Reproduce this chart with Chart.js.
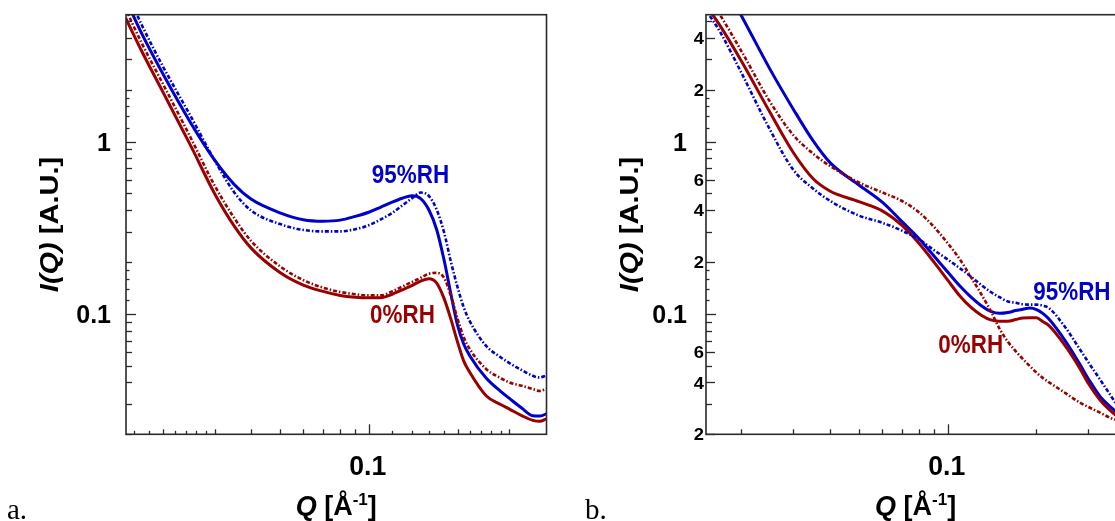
<!DOCTYPE html>
<html><head><meta charset="utf-8">
<script src="https://cdn.jsdelivr.net/npm/chart.js@4.4.0/dist/chart.umd.min.js"></script>
<style>
html,body{margin:0;padding:0;background:#fff;overflow:hidden;width:1115px;height:521px;}
#wa{position:absolute;left:0;top:0;width:560px;height:521px;}
#wb{position:absolute;left:560px;top:0;width:555px;height:521px;overflow:hidden;}
canvas{display:block;}
</style></head><body>
<div id="wa"><canvas id="ca" width="560" height="521"></canvas></div>
<div id="wb"><canvas id="cb" width="600" height="521"></canvas></div>
<script>
// ---- data ----
const Q = [0.015,0.017,0.02,0.025,0.03,0.035,0.04,0.05,0.06,0.07,0.08,0.09,0.1,0.11,0.12,0.13,0.14,0.15,0.16,0.17,0.18,0.19,0.2,0.21,0.22,0.25,0.28,0.3,0.33,0.36,0.38,0.4];

const aBlueSolid = [6.7,4.23,2.49,1.27,0.782,0.563,0.462,0.386,0.352,0.345,0.35,0.368,0.389,0.417,0.445,0.469,0.485,0.467,0.401,0.308,0.206,0.130,0.0859,0.0666,0.0572,0.0424,0.0355,0.0323,0.0284,0.0256,0.0255,0.0263];
const aBlueDash  = [7.6,4.75,2.75,1.387,0.78,0.507,0.397,0.332,0.307,0.301,0.301,0.310,0.327,0.354,0.385,0.426,0.468,0.506,0.483,0.402,0.298,0.200,0.143,0.109,0.0907,0.0652,0.056,0.0518,0.0472,0.0437,0.0427,0.0439];
const aRedSolid  = [5.2,3.346,1.957,0.934,0.5,0.323,0.240,0.174,0.147,0.135,0.128,0.125,0.124,0.124,0.130,0.138,0.146,0.155,0.160,0.151,0.123,0.0929,0.0687,0.0532,0.0458,0.0335,0.0298,0.0280,0.0257,0.0241,0.0238,0.0246];
const aRedDash   = [5.86,3.72,2.18,1.039,0.557,0.36,0.264,0.189,0.157,0.142,0.134,0.130,0.128,0.128,0.135,0.144,0.153,0.162,0.171,0.173,0.162,0.127,0.0938,0.0731,0.0625,0.0479,0.0424,0.040,0.0383,0.0366,0.0357,0.0366];

const bBlueSolid = [12,8.83,5.36,2.625,1.537,1.009,0.752,0.560,0.445,0.343,0.273,0.216,0.175,0.145,0.125,0.1115,0.1034,0.1007,0.1018,0.1045,0.1065,0.108,0.1059,0.1007,0.0937,0.070,0.0513,0.0419,0.0328,0.0284,0.0261,0.0244];
const bBlueDash  = [5.95,4.27,2.50,1.169,0.684,0.533,0.452,0.372,0.338,0.304,0.270,0.234,0.207,0.184,0.1645,0.147,0.134,0.125,0.118,0.116,0.1137,0.1132,0.1132,0.1117,0.1084,0.0838,0.0626,0.0523,0.0411,0.0328,0.0286,0.0257];
const bRedSolid  = [6.34,4.65,2.925,1.473,0.861,0.608,0.515,0.448,0.396,0.326,0.256,0.199,0.157,0.127,0.109,0.0983,0.0922,0.0906,0.0907,0.0927,0.0947,0.0948,0.0948,0.0902,0.0857,0.0655,0.0486,0.0394,0.0313,0.0270,0.0251,0.0238];
const bRedDash   = [7.36,5.355,3.342,1.699,1.088,0.851,0.720,0.579,0.507,0.452,0.388,0.319,0.257,0.207,0.163,0.130,0.1037,0.0819,0.0689,0.0608,0.0546,0.0497,0.0456,0.0425,0.0402,0.0348,0.0306,0.0288,0.0266,0.0247,0.0241,0.0238];

// tick positions and labels
const yTickMantissas = [1,1.2,1.4,1.6,1.8,2,3,4,5,6,7,8,9];
const yTickDecades = [0.01,0.1,1];
const yLabelsA = [{v:1,t:'1'},{v:0.1,t:'0.1'}];
const yLabelsB = [{v:4,t:'4'},{v:2,t:'2'},{v:1,t:'1'},{v:0.6,t:'6'},{v:0.4,t:'4'},{v:0.2,t:'2'},{v:0.1,t:'0.1'},{v:0.06,t:'6'},{v:0.04,t:'4'},{v:0.02,t:'2'}];
const xTicksA = [0.016,0.018,0.02,0.022,0.024,0.026,0.028,0.03,0.04,0.05,0.06,0.07,0.08,0.09,0.1,0.12,0.14,0.16,0.18,0.2,0.22,0.24,0.26,0.28,0.3];
const xTicksB = [0.02,0.03,0.04,0.05,0.06,0.07,0.08,0.09,0.1,0.2,0.3,0.4];
const xLabels = [{v:0.1,t:'0.1'}];
const seriesLabelsA = [{q:0.1024,i:0.573,t:'95%RH',c:'blue'},{q:0.101,i:0.0885,t:'0%RH',c:'red'}];
const seriesLabelsB = [{q:0.195,i:0.121,t:'95%RH',c:'blue'},{q:0.0929,i:0.0593,t:'0%RH',c:'red'}];

// ---- style ----
const BLUE = '#0000cc', RED = '#990000', AX = '#2a2a2a';
const SANS = '"Liberation Sans", Arial, Helvetica, sans-serif';

function hText(ctx, parts, x, y, align, color, sx) {
  ctx.save();
  ctx.fillStyle = color; ctx.textBaseline = 'alphabetic'; ctx.textAlign = 'left';
  let total = 0;
  parts.forEach(p => { ctx.font = p.f; p.w = ctx.measureText(p.t).width * sx; total += p.w; });
  let cx = align === 'center' ? x - total/2 : (align === 'right' ? x - total : x);
  parts.forEach(p => {
    ctx.save(); ctx.font = p.f; ctx.translate(cx, y + (p.dy||0)); ctx.scale(sx,1); ctx.fillText(p.t,0,0); ctx.restore();
    cx += p.w;
  });
  ctx.restore();
}
function vText(ctx, parts, bx, cy, color, sy) {
  ctx.save();
  ctx.fillStyle = color; ctx.textBaseline = 'alphabetic'; ctx.textAlign = 'left';
  let total = 0;
  parts.forEach(p => { ctx.font = p.f; p.w = ctx.measureText(p.t).width; total += p.w; });
  ctx.translate(bx, cy); ctx.rotate(-Math.PI/2); ctx.scale(1, sy);
  let lx = -total/2;
  parts.forEach(p => { ctx.font = p.f; ctx.fillText(p.t, lx, 0); lx += p.w; });
  ctx.restore();
}

const deco = {
  id: 'deco',
  afterDatasetsDraw(chart, args, o) {
    const ctx = chart.ctx, a = chart.chartArea, xs = chart.scales.x, ys = chart.scales.y;
    ctx.save();
    ctx.strokeStyle = AX; ctx.lineWidth = 1.3;
    // y ticks (inward)
    const labVals = o.yLabels.map(l => l.v);
    yTickDecades.forEach(d => yTickMantissas.forEach(m => {
      const v = +(d*m).toPrecision(6);
      if (v < ys.min*0.999 || v > ys.max) return;
      let len = Number.isInteger(m) ? 6 : 3.5;
      if (labVals.some(l => Math.abs(l - v) < 1e-9)) len = (v === 1 || v === 0.1) ? 10 : 9;
      const py = Math.round(ys.getPixelForValue(v)) + 0.5;
      ctx.beginPath(); ctx.moveTo(a.left, py); ctx.lineTo(a.left + len, py); ctx.stroke();
    }));
    // x ticks (inward)
    o.xTicks.forEach(v => {
      const mant = v / Math.pow(10, Math.floor(Math.log10(v) + 1e-9));
      let len = Math.abs(mant - Math.round(mant)) < 1e-6 ? 5 : 3.5;
      if (Math.abs(v - 0.1) < 1e-9) len = 10;
      const px = Math.round(xs.getPixelForValue(v)) + 0.5;
      ctx.beginPath(); ctx.moveTo(px, a.bottom); ctx.lineTo(px, a.bottom - len); ctx.stroke();
    });
    // frame
    ctx.lineWidth = 1.6;
    ctx.strokeRect(a.left, a.top, a.right - a.left, a.bottom - a.top);
    // y tick labels
    o.yLabels.forEach(l => {
      const big = (l.v === 1 || l.v === 0.1);
      const size = big ? 25 : 17;
      const py = ys.getPixelForValue(l.v) + size*0.36;
      hText(ctx, [{t:l.t, f:'bold ' + size + 'px ' + SANS}], a.left - (big ? o.gapBig : o.gapSmall), py, 'right', '#000', big ? 1 : 1.08);
    });
    // x tick labels
    xLabels.forEach(l => {
      hText(ctx, [{t:l.t, f:'bold 28px ' + SANS}], xs.getPixelForValue(l.v) - 1, a.bottom + 41, 'center', '#000', 0.95);
    });
    // axis titles
    const cxT = (a.left + a.right) / 2;
    hText(ctx, [
      {t:'Q', f:'italic bold 27px ' + SANS},
      {t:' [Å', f:'bold 27px ' + SANS},
      {t:'-1', f:'bold 17px ' + SANS, dy:-10},
      {t:']', f:'bold 27px ' + SANS}
    ], cxT, a.bottom + 81, 'center', '#000', 1);
    vText(ctx, [
      {t:'I(Q)', f:'italic bold 29px ' + SANS},
      {t:' [A.U.]', f:'bold 29px ' + SANS}
    ], a.left - 68, (a.top + a.bottom) / 2, '#000', 0.92);
    // series labels
    o.seriesLabels.forEach(s => {
      hText(ctx, [{t:s.t, f:'bold 25.5px ' + SANS}], xs.getPixelForValue(s.q), ys.getPixelForValue(s.i), 'left', s.c === 'blue' ? BLUE : RED, 0.88);
    });
    // panel letter
    ctx.save();
    ctx.fillStyle = '#000'; ctx.font = '29px "Liberation Serif", "Times New Roman", serif';
    ctx.translate(a.left - o.letterDx, 519); ctx.fillText(o.letter, 0, 0);
    ctx.restore();
    ctx.restore();
  }
};

function ds(vals, color, dashed) {
  return {
    data: Q.map((q, i) => ({x: q, y: vals[i]})),
    borderColor: color,
    borderWidth: dashed ? 2.6 : 3,
    borderDash: dashed ? [4, 2, 1.5, 2] : [],
    pointRadius: 0,
    fill: false,
    cubicInterpolationMode: 'monotone',
    clip: 0
  };
}

function makeChart(id, sets, xmin, xmax, pad, decoOpts) {
  return new Chart(document.getElementById(id), {
    type: 'line',
    data: { datasets: sets },
    options: {
      responsive: false, animation: false, devicePixelRatio: 1,
      layout: { padding: pad },
      plugins: { legend: {display: false}, tooltip: {enabled: false}, deco: decoOpts },
      scales: {
        x: { type: 'logarithmic', min: xmin, max: xmax, display: false },
        y: { type: 'logarithmic', min: 0.02, max: 5.45, display: false }
      }
    },
    plugins: [deco]
  });
}

makeChart('ca', [
  ds(aRedDash, RED, true), ds(aBlueDash, BLUE, true), ds(aRedSolid, RED, false), ds(aBlueSolid, BLUE, false)
], 0.01503, 0.4006, {left:126, top:14.7, right:13.5, bottom:86.7},
{ yLabels: yLabelsA, xTicks: xTicksA, seriesLabels: seriesLabelsA, gapBig: 15, gapSmall: 2, letter: 'a.', letterDx: 119 });

makeChart('cb', [
  ds(bRedDash, RED, true), ds(bBlueDash, BLUE, true), ds(bRedSolid, RED, false), ds(bBlueSolid, BLUE, false)
], 0.01516, 0.4, {left:146, top:14.7, right:34.7, bottom:86.7},
{ yLabels: yLabelsB, xTicks: xTicksB, seriesLabels: seriesLabelsB, gapBig: 19, gapSmall: 2, letter: 'b.', letterDx: 121 });
</script>
</body></html>
